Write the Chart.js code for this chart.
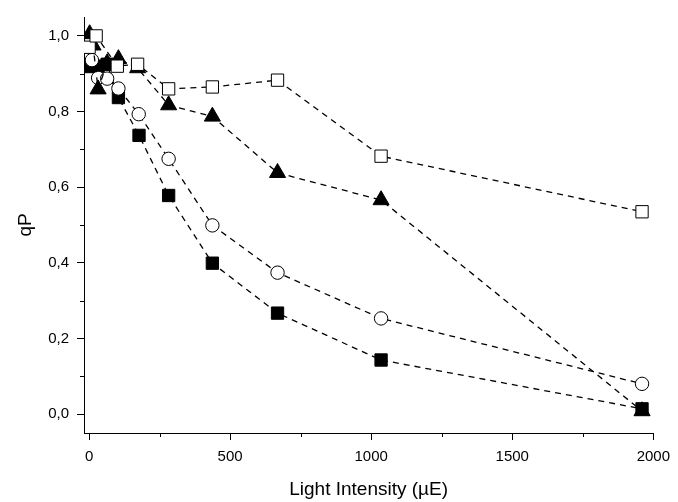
<!DOCTYPE html>
<html>
<head>
<meta charset="utf-8">
<script src="https://cdn.jsdelivr.net/npm/chart.js@4"></script>
<style>
  body { margin: 0; background: #fff; }
  #chart { display: block; }
</style>
</head>
<body>
<canvas id="chart" width="678" height="502"></canvas>
<script>
// values
const openSquareX = [0, 25, 100, 172, 282, 437, 668, 1035, 1960];
const openSquareY = [0.97, 1.0, 0.92, 0.925, 0.86, 0.865, 0.883, 0.682, 0.535];

const triangleX = [2, 14, 32, 64, 104, 172, 282, 437, 668, 1035, 1960];
const triangleY = [1.005, 0.975, 0.859, 0.928, 0.939, 0.915, 0.817, 0.787, 0.638, 0.566, 0.008];

const circleX = [10, 32, 64, 104, 176, 282, 437, 668, 1035, 1960];
const circleY = [0.936, 0.889, 0.887, 0.861, 0.793, 0.675, 0.499, 0.374, 0.253, 0.08];

const filledSquareX = [3, 32, 64, 104, 177, 282, 437, 668, 1035, 1960];
const filledSquareY = [0.919, 0.92, 0.925, 0.837, 0.737, 0.578, 0.399, 0.267, 0.143, 0.014];

const xTicks = [0, 500, 1000, 1500, 2000];
const xMinorTicks = [250, 750, 1250, 1750];
const yTicks = [0, 0.2, 0.4, 0.6, 0.8, 1.0];
const yMinorTicks = [0.1, 0.3, 0.5, 0.7, 0.9];

const toPoints = (xs, ys) => xs.map((x, i) => ({ x: x, y: ys[i] }));

function series(xs, ys, style, radius, fill) {
    return {
        data: toPoints(xs, ys),
        showLine: true,
        borderColor: '#000',
        borderWidth: 1.3,
        borderDash: [6, 5],
        pointStyle: style,
        pointRadius: radius,
        pointHoverRadius: radius,
        pointBackgroundColor: fill,
        pointBorderColor: '#000',
        pointBorderWidth: 1
    };
}

// short minor ticks, drawn through the scales
const minorTicks = {
    id: 'minorTicks',
    afterDraw(chart) {
        const ctx = chart.ctx;
        const xs = chart.scales.x, ys = chart.scales.y;
        ctx.save();
        ctx.strokeStyle = '#000';
        ctx.lineWidth = 1;
        ctx.beginPath();
        xMinorTicks.forEach(v => {
            const px = Math.round(xs.getPixelForValue(v)) + 0.5;
            ctx.moveTo(px, xs.top);
            ctx.lineTo(px, xs.top + 4);
        });
        yMinorTicks.forEach(v => {
            const py = Math.round(ys.getPixelForValue(v)) + 0.5;
            ctx.moveTo(ys.right, py);
            ctx.lineTo(ys.right - 4, py);
        });
        ctx.stroke();
        ctx.restore();
    }
};

const tickFont = { family: 'Liberation Sans, Arial, sans-serif', size: 15 };
const titleFont = { family: 'Liberation Sans, Arial, sans-serif', size: 19 };

new Chart(document.getElementById('chart'), {
    type: 'scatter',
    data: {
        datasets: [
            series(openSquareX, openSquareY, 'rect', 8.7, '#fff'),
            series(triangleX, triangleY, 'triangle', 9.3, '#000'),
            series(circleX, circleY, 'circle', 6.7, '#fff'),
            series(filledSquareX, filledSquareY, 'rect', 8.7, '#000')
        ]
    },
    options: {
        responsive: false,
        animation: false,
        layout: { padding: { left: 0, right: 20, top: 8, bottom: 0 } },
        plugins: {
            legend: { display: false },
            tooltip: { enabled: false }
        },
        scales: {
            x: {
                type: 'linear',
                min: -18,
                max: 2000,
                afterFit: s => { s.height = 69; },
                afterBuildTicks: s => { s.ticks = xTicks.map(v => ({ value: v })); },
                grid: { drawOnChartArea: false, tickLength: 7, color: '#000' },
                border: { color: '#000', width: 1 },
                ticks: {
                    color: '#000',
                    font: tickFont,
                    padding: 8,
                    maxRotation: 0,
                    callback: v => String(v)
                },
                title: {
                    display: true,
                    text: 'Light Intensity (µE)',
                    color: '#000',
                    font: titleFont,
                    padding: { top: 0, bottom: 1 }
                }
            },
            y: {
                type: 'linear',
                min: -0.05,
                max: 1.05,
                afterFit: s => { s.width = 84; },
                afterBuildTicks: s => { s.ticks = yTicks.map(v => ({ value: v })); },
                grid: { drawOnChartArea: false, tickLength: 7, color: '#000' },
                border: { color: '#000', width: 1 },
                ticks: {
                    color: '#000',
                    font: tickFont,
                    padding: 8,
                    callback: v => v.toFixed(1).replace('.', ',')
                },
                title: {
                    display: true,
                    text: 'qP',
                    color: '#000',
                    font: titleFont,
                    padding: { top: 14, bottom: 0 }
                }
            }
        }
    },
    plugins: [minorTicks]
});
</script>
</body>
</html>
